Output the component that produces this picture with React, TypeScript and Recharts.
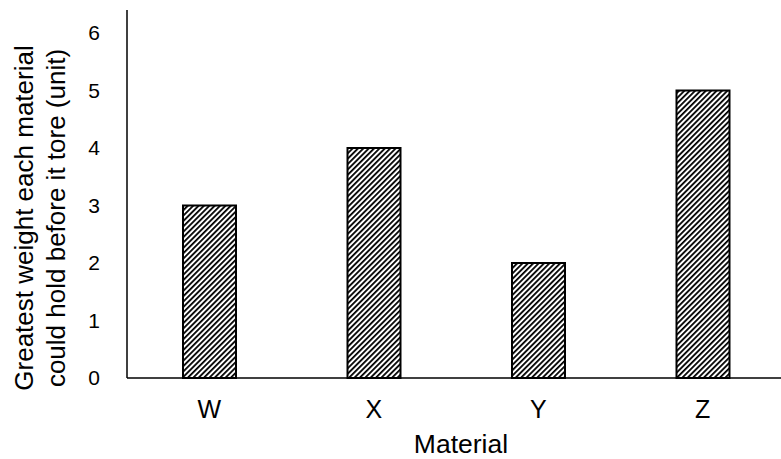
import React from 'react';
import { BarChart, Bar, XAxis, YAxis } from 'recharts';

const materials = ['W', 'X', 'Y', 'Z'];
const weights = [3, 4, 2, 5];
const yTicks = [0, 1, 2, 3, 4, 5, 6];
const yMax = 6.4;
const xTitle = 'Material';
const yTitleLines = ['Greatest weight each material', 'could hold before it tore (unit)'];

const data = materials.map((m, i) => ({ material: m, weight: weights[i] }));

const FONT = '"Liberation Sans", Arial, Helvetica, sans-serif';

function YTitle(props: any) {
  const vb = props.viewBox || { x: 0, y: 10, width: 127, height: 368 };
  const cy = vb.y + vb.height / 2 + 24;
  const xs = [vb.x + 33, vb.x + 65];
  return (
    <g>
      {yTitleLines.map((line, i) => (
        <text
          key={i}
          x={xs[i]}
          y={cy}
          transform={`rotate(-90, ${xs[i]}, ${cy})`}
          textAnchor="middle"
          fontFamily={FONT}
          fontSize={26}
          fill="#000"
        >
          {line}
        </text>
      ))}
    </g>
  );
}

function XTitle(props: any) {
  const vb = props.viewBox || { x: 127, y: 378, width: 654, height: 81 };
  return (
    <text
      x={vb.x + vb.width / 2 + 5}
      y={vb.y + vb.height - 6}
      textAnchor="middle"
      fontFamily={FONT}
      fontSize={26.5}
      fill="#000"
    >
      {xTitle}
    </text>
  );
}

export default function App() {
  return (
    <div style={{ position: 'absolute', left: 0, top: 0, background: '#fff' }}>
      <BarChart
        width={781}
        height={459}
        data={data}
        margin={{ top: 10, right: -4, bottom: 0, left: 0 }}
        barCategoryGap={0}
      >
        <defs>
          <pattern
            id="hatch"
            patternUnits="userSpaceOnUse"
            width={3.8}
            height={3.8}
            patternTransform="rotate(45)"
          >
            <rect x={0} y={0} width={3.8} height={3.8} fill="#fff" />
            <line x1={0} y1={0} x2={0} y2={3.8} stroke="#000" strokeWidth={3.6} />
          </pattern>
        </defs>
        <XAxis
          dataKey="material"
          height={81}
          tickLine={false}
          tickSize={6}
          tickMargin={16}
          axisLine={{ stroke: '#000', strokeWidth: 1.5 }}
          tick={{ fill: '#000', fontSize: 25, fontFamily: FONT }}
          label={<XTitle />}
        />
        <YAxis
          width={127}
          domain={[0, yMax]}
          ticks={yTicks}
          interval={0}
          tickLine={false}
          tickSize={6}
          tickMargin={21}
          axisLine={{ stroke: '#000', strokeWidth: 1.5 }}
          tick={{ fill: '#000', fontSize: 21, fontFamily: FONT }}
          label={<YTitle />}
        />
        <Bar
          dataKey="weight"
          barSize={53}
          fill="url(#hatch)"
          stroke="#000"
          strokeWidth={2}
          isAnimationActive={false}
        />
      </BarChart>
    </div>
  );
}
